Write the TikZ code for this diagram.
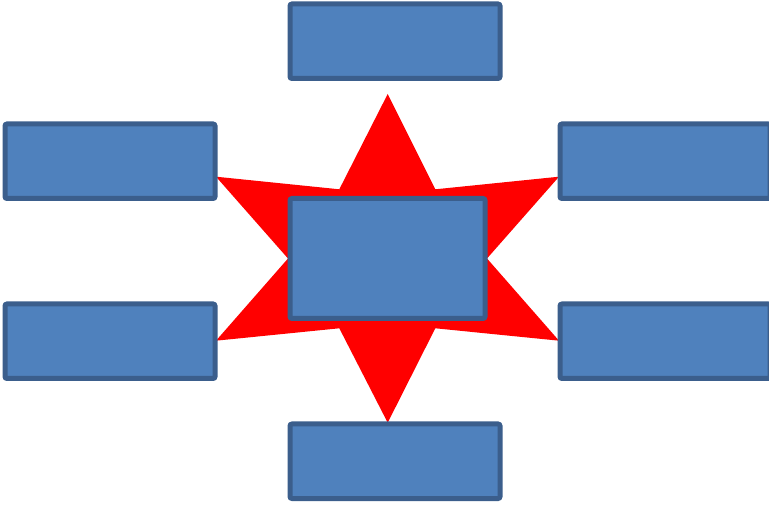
\documentclass[tikz,border=0pt]{standalone}
\usepackage{xcolor}
\definecolor{boxfill}{HTML}{4F81BD}
\definecolor{boxline}{HTML}{3B5E8C}

\begin{document}
\begin{tikzpicture}[x=0.5pt,y=-0.5pt,
  box/.style={draw=boxline,fill=boxfill,line width=2.5pt,rounded corners=1pt,inner sep=0pt,minimum width=105pt,minimum height=37.25pt}]
\useasboundingbox (0,0) rectangle (769,506);
% star behind the boxes
\fill[red] (387.7,94)--(435.3,189.3)--(559,176.7)--(487,258.5)--(559,340.7)--(435.3,328.3)--(387.7,422.7)--(339.3,328.3)--(216,340.7)--(288,258.5)--(216,176.7)--(339.3,189.3)--cycle;
\node[box,minimum width=97.5pt,minimum height=60pt] (centre) at (387.5,258.5) {};
\node[box] (top) at (395,41.25) {};
\node[box] (bottom) at (395,461.25) {};
\node[box] (upleft) at (110,161.25) {};
\node[box] (lowleft) at (110,341.25) {};
\node[box] (upright) at (665,161.25) {};
\node[box] (lowright) at (665,341.25) {};
\end{tikzpicture}
\end{document}
